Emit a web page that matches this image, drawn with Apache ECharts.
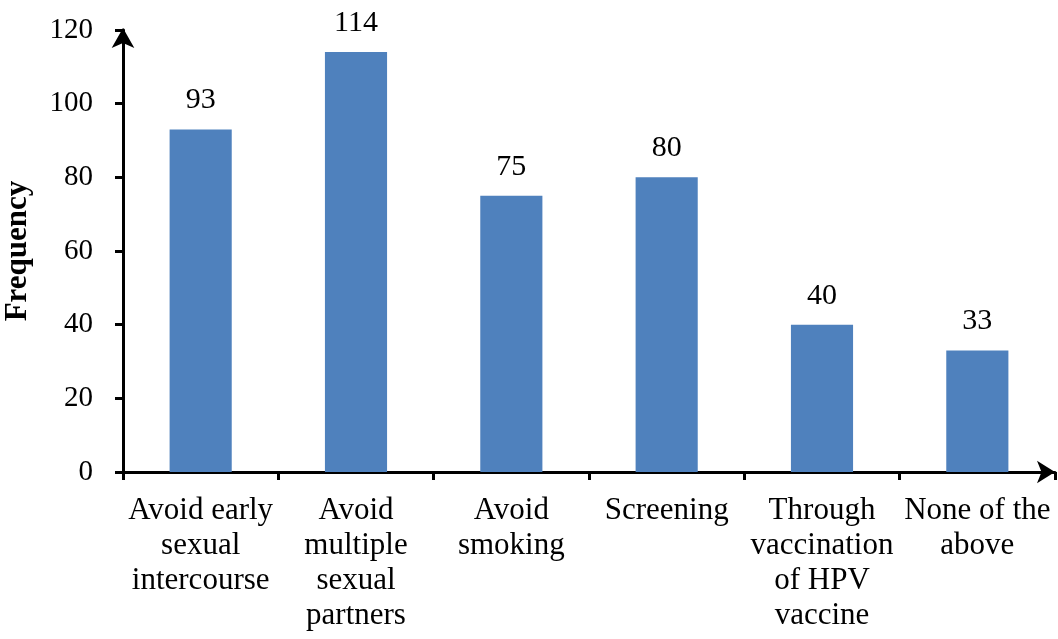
<!DOCTYPE html>
<html>
<head>
<meta charset="utf-8">
<script src="https://cdn.jsdelivr.net/npm/echarts@6/dist/echarts.min.js"></script>
<style>
  html, body { margin: 0; padding: 0; background: #fff; }
  #chart { width: 1058px; height: 639px; }
</style>
</head>
<body>
<div id="chart"></div>
<script>
  // categories and values
  var categories = [
    'Avoid early\nsexual\nintercourse',
    'Avoid\nmultiple\nsexual\npartners',
    'Avoid\nsmoking',
    'Screening',
    'Through\nvaccination\nof HPV\nvaccine',
    'None of the\nabove'
  ];
  var frequency = [93, 114, 75, 80, 40, 33];
  var yTicks = [0, 20, 40, 60, 80, 100, 120];

  var chart = echarts.init(document.getElementById('chart'));
  var serif = '"Liberation Serif", "Times New Roman", serif';

  var options = {
    animation: false,
    grid: {
      left: 123,
      right: 3,
      top: 30,
      bottom: 167,
      containLabel: false,
      outerBoundsMode: 'none'
    },
    xAxis: {
      type: 'category',
      data: categories,
      axisLine: {
        lineStyle: { color: '#000', width: 3 },
        symbol: ['none', 'arrow'],
        symbolSize: [17, 18],
        symbolOffset: [0, 0]
      },
      axisTick: {
        show: true,
        alignWithLabel: false,
        length: 8,
        lineStyle: { color: '#000', width: 3 }
      },
      axisLabel: {
        interval: 0,
        margin: 21,
        color: '#000',
        fontFamily: serif,
        fontSize: 31,
        lineHeight: 35
      }
    },
    yAxis: {
      type: 'value',
      min: yTicks[0],
      max: yTicks[yTicks.length - 1],
      interval: 20,
      name: 'Frequency',
      nameLocation: 'middle',
      nameGap: 90,
      nameRotate: 90,
      nameTextStyle: {
        color: '#000',
        fontFamily: serif,
        fontSize: 31,
        fontWeight: 'bold'
      },
      axisLine: {
        show: true,
        lineStyle: { color: '#000', width: 3 },
        symbol: ['none', 'arrow'],
        symbolSize: [17, 20],
        symbolOffset: [0, 2]
      },
      axisTick: {
        show: true,
        length: 8,
        lineStyle: { color: '#000', width: 3 }
      },
      axisLabel: {
        margin: 30,
        color: '#000',
        fontFamily: serif,
        fontSize: 29
      },
      splitLine: { show: false }
    },
    series: [{
      type: 'bar',
      data: frequency,
      barWidth: '40%',
      itemStyle: { color: '#4F81BD' },
      label: {
        show: true,
        position: 'top',
        distance: 14,
        color: '#000',
        fontFamily: serif,
        fontSize: 30
      }
    }]
  };

  chart.setOption(options);
</script>
</body>
</html>
